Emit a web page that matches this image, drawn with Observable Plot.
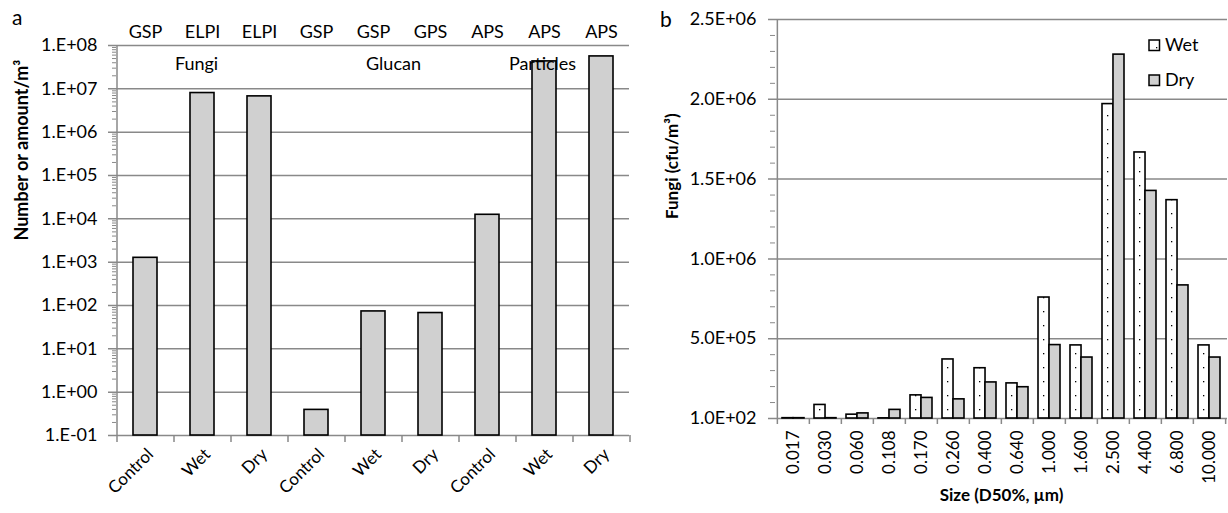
<!DOCTYPE html>
<html>
<head>
<meta charset="utf-8">
<script src="https://cdn.jsdelivr.net/npm/d3@7"></script>
<script src="https://cdn.jsdelivr.net/npm/@observablehq/plot@0.6"></script>
<style>
  html, body { margin: 0; padding: 0; background: #fff; }
  #wrap { position: relative; width: 1228px; height: 513px; display: flex; font-family: Lato, "Open Sans", sans-serif; color: #000; }
  .letter { position: absolute; font-size: 21px; line-height: 1; }
  .lg-sw { position: absolute; }
  .lg-tx { position: absolute; font-size: 18px; line-height: 18px; }
</style>
</head>
<body>
<div id="wrap">
  <div class="letter" style="left:12px;top:6px;">a</div>
  <div class="letter" style="left:660px;top:8px;">b</div>
</div>
<script>
// ---------- Panel a data ----------
const groupsA = ["Fungi", "Fungi", "Fungi", "Glucan", "Glucan", "Glucan", "Particles", "Particles", "Particles"];
const conditionsA = ["Control", "Wet", "Dry", "Control", "Wet", "Dry", "Control", "Wet", "Dry"];
const instrumentsA = ["GSP", "ELPI", "ELPI", "GSP", "GSP", "GPS", "APS", "APS", "APS"];
const valuesA = [1.26e3, 8.0e6, 6.7e6, 0.39, 73, 67, 1.24e4, 4.3e7, 5.6e7];
const groupLabelsA = ["Fungi", "Glucan", "Particles"];
const yTicksA = [1e-1, 1e0, 1e1, 1e2, 1e3, 1e4, 1e5, 1e6, 1e7, 1e8];
const yTickLabelsA = ["1.E-01", "1.E+00", "1.E+01", "1.E+02", "1.E+03", "1.E+04", "1.E+05", "1.E+06", "1.E+07", "1.E+08"];
const yTitleA = "Number or amount/m³";

// ---------- Panel b data ----------
const sizesB = ["0.017", "0.030", "0.060", "0.108", "0.170", "0.260", "0.400", "0.640", "1.000", "1.600", "2.500", "4.400", "6.800", "10.000"];
const wetB = [2.0e3, 8.5e4, 2.4e4, 1.0e3, 1.45e5, 3.7e5, 3.15e5, 2.2e5, 7.58e5, 4.58e5, 1.97e6, 1.667e6, 1.368e6, 4.58e5];
const dryB = [2.0e3, 2.0e3, 3.2e4, 5.4e4, 1.29e5, 1.2e5, 2.26e5, 1.96e5, 4.6e5, 3.82e5, 2.28e6, 1.426e6, 8.34e5, 3.82e5];
const seriesB = ["Wet", "Dry"];
const yTicksB = [0, 5e5, 1e6, 1.5e6, 2e6, 2.5e6];
const yTickLabelsB = ["1.0E+02", "5.0E+05", "1.0E+06", "1.5E+06", "2.0E+06", "2.5E+06"];
const xTitleB = "Size (D50%, µm)";
const yTitleB = "Fungi (cfu/m³)";

// ---------- shared style ----------
const FONT = "Lato, 'Open Sans', sans-serif";
const GRAY = "#898989";
const BAR_GRAY = "#d0d0d0";

// ---------- Panel a ----------
const keysA = groupsA.map((g, i) => g + "|" + conditionsA[i]);
const dataA = keysA.map((k, i) => ({key: k, value: valuesA[i]}));
const WA = 640, HA = 513, mlA = 116, mrA = 11, mtA = 45, mbA = 78;
const stepA = (WA - mlA - mrA) / keysA.length;
const minorA = [];
for (let e = -1; e < 8; e++) for (let m = 2; m <= 9; m++) minorA.push(m * Math.pow(10, e));
const groupOffsetsA = [-6, 20, -2];

const plotA = Plot.plot({
  width: WA, height: HA,
  marginLeft: mlA, marginRight: mrA, marginTop: mtA, marginBottom: mbA,
  style: {fontFamily: FONT, fontSize: "18px", color: "#000", background: "transparent", overflow: "visible"},
  x: {type: "band", domain: keysA, paddingInner: 0.58, paddingOuter: 0.29, axis: null},
  y: {type: "log", domain: [0.1, 1e8], axis: null},
  marks: [
    Plot.ruleY(yTicksA, {stroke: GRAY, strokeWidth: 1.5, insetLeft: -8}),
    Plot.ruleX([keysA[0]], {x: d => d, dx: -stepA / 2, stroke: GRAY, strokeWidth: 1.5}),
    Plot.axisY(minorA, {tickSize: 4, tickFormat: () => "", stroke: GRAY, label: null}),
    Plot.axisY(yTicksA, {tickSize: 0, tickPadding: 19, tickFormat: d => yTickLabelsA[yTicksA.indexOf(d)], label: null}),
    Plot.ruleX(keysA, {x: d => d, dx: -stepA / 2, y1: 0.1, y2: 0.1, insetBottom: -7, stroke: GRAY, strokeWidth: 1.5}),
    Plot.ruleX([keysA[keysA.length - 1]], {x: d => d, dx: stepA / 2, y1: 0.1, y2: 0.1, insetBottom: -7, stroke: GRAY, strokeWidth: 1.5}),
    Plot.barY(dataA, {x: "key", y1: 0.1, y2: "value", fill: BAR_GRAY, stroke: "#000", strokeWidth: 1.6}),
    Plot.axisX({tickSize: 0, tickRotate: -45, tickPadding: 16, dx: 5, tickFormat: k => k.split("|")[1], label: null, fontSize: 17}),
    Plot.axisX({anchor: "top", tickSize: 0, tickPadding: 8, tickFormat: k => instrumentsA[keysA.indexOf(k)], label: null}),
    ...groupLabelsA.map((g, j) => Plot.text([g], {x: () => g + "|Wet", frameAnchor: "top", dy: 12, dx: groupOffsetsA[j], text: d => d})),
    Plot.text([yTitleA], {frameAnchor: "left", rotate: -90, dx: -94, fontWeight: "bold", fontSize: 18, text: d => d})
  ]
});

// ---------- Panel b ----------
const WB = 588, HB = 513, mlB = 135, mrB = 1, mtB = 19, mbB = 95;
const stepB = (WB - mlB - mrB) / sizesB.length;
const padB = 0.32;
const bwB = stepB * (1 - padB);
const dataWet = sizesB.map((s, i) => ({size: s, series: seriesB[0], value: wetB[i]}));
const dataDry = sizesB.map((s, i) => ({size: s, series: seriesB[1], value: dryB[i]}));
const minorB = [];
for (let v = 1e5; v < 2.5e6; v += 1e5) if (Math.round(v / 1e5) % 5 !== 0) minorB.push(v);

const plotB = Plot.plot({
  width: WB, height: HB,
  marginLeft: mlB, marginRight: mrB, marginTop: mtB, marginBottom: mbB,
  style: {fontFamily: FONT, fontSize: "17px", color: "#000", background: "transparent", overflow: "visible"},
  x: {type: "band", domain: sizesB, paddingInner: padB, paddingOuter: padB / 2, axis: null},
  y: {domain: [0, 2.5e6], axis: null},
  marks: [
    Plot.ruleY(yTicksB, {stroke: GRAY, strokeWidth: 1.5, insetLeft: -7}),
    Plot.ruleX([sizesB[0]], {x: d => d, dx: -stepB / 2, stroke: GRAY, strokeWidth: 1.5}),
    Plot.axisY(minorB, {tickSize: 5, tickFormat: () => "", stroke: GRAY, label: null}),
    Plot.axisY(yTicksB, {tickSize: 0, tickPadding: 19, fontSize: 18, tickFormat: d => yTickLabelsB[yTicksB.indexOf(d)], label: null}),
    Plot.ruleX(sizesB, {x: d => d, dx: -stepB / 2, y1: 0, y2: 0, insetBottom: -6, stroke: GRAY, strokeWidth: 1.5}),
    Plot.ruleX([sizesB[sizesB.length - 1]], {x: d => d, dx: stepB / 2, y1: 0, y2: 0, insetBottom: -6, stroke: GRAY, strokeWidth: 1.5}),
    Plot.barY(dataWet, {x: "size", y: "value", insetRight: bwB / 2, fill: "url(#wetDots)", stroke: "#000", strokeWidth: 1.6}),
    Plot.barY(dataDry, {x: "size", y: "value", insetLeft: bwB / 2, fill: BAR_GRAY, stroke: "#000", strokeWidth: 1.6}),
    Plot.axisX({tickSize: 0, tickRotate: -90, tickPadding: 12, label: null}),
    Plot.text([xTitleB], {frameAnchor: "bottom", dy: 82, fontWeight: "bold", fontSize: 17, text: d => d}),
    Plot.text([yTitleB], {frameAnchor: "left", rotate: -90, dx: -103, fontWeight: "bold", fontSize: 17, text: d => d})
  ]
});

const NS = "http://www.w3.org/2000/svg";
const patternMarkup = `<pattern id="wetDots" width="16" height="14" patternUnits="userSpaceOnUse">
  <rect width="16" height="14" fill="#fff"></rect>
  <rect x="3" y="3" width="1.3" height="1.3" fill="#000"></rect>
  <rect x="11" y="10" width="1.3" height="1.3" fill="#000"></rect>
</pattern>`;
const defs = document.createElementNS(NS, "defs");
defs.innerHTML = patternMarkup;
plotB.insertBefore(defs, plotB.firstChild);

const wrap = document.getElementById("wrap");
wrap.insertBefore(plotB, wrap.firstChild);
wrap.insertBefore(plotA, wrap.firstChild);

// legend (top right of panel b)
const legendRowsY = [45, 80];
seriesB.forEach((s, i) => {
  const sw = document.createElementNS(NS, "svg");
  sw.setAttribute("class", "lg-sw");
  sw.setAttribute("width", "13"); sw.setAttribute("height", "13");
  sw.style.left = "1148px";
  sw.style.top = (legendRowsY[i] - 6) + "px";
  sw.innerHTML = i === 0
    ? `<rect x="1" y="1" width="10.5" height="10.5" fill="#fff" stroke="#000" stroke-width="1.5"></rect><rect x="8" y="8" width="1.3" height="1.3" fill="#000"></rect>`
    : `<rect x="1" y="1" width="10.5" height="10.5" fill="${BAR_GRAY}" stroke="#000" stroke-width="1.5"></rect>`;
  wrap.appendChild(sw);
  const t = document.createElement("div");
  t.className = "lg-tx";
  t.style.left = "1165px";
  t.style.top = (legendRowsY[i] - 10) + "px";
  t.textContent = s;
  wrap.appendChild(t);
});
</script>
</body>
</html>
